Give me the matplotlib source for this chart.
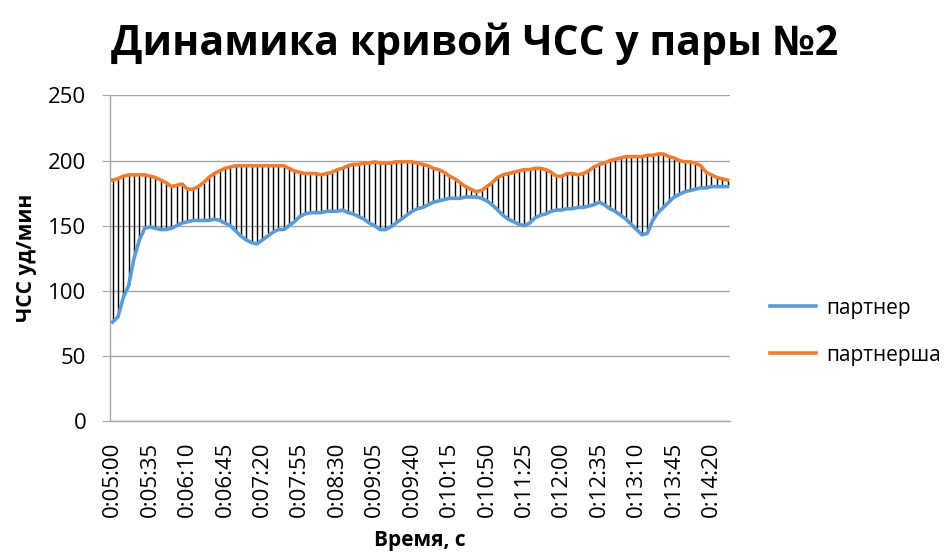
import matplotlib.pyplot as plt

# time axis: every 5 s from 0:05:00
start_sec = 300
step_sec = 5

partner = [76, 80, 95, 104, 125, 139, 148, 149, 148, 147, 147, 148, 150, 152, 153, 154, 154, 154, 154, 155,
           154, 152, 150, 146, 142, 139, 137, 136, 139, 142, 145, 147, 147, 150, 153, 157, 159, 160, 160, 160,
           161, 161, 161, 162, 160, 159, 157, 155, 152, 150, 147, 147, 149, 152, 155, 158, 161, 163, 164, 166,
           168, 169, 170, 171, 171, 171, 172, 172, 172, 171, 169, 166, 162, 158, 155, 153, 151, 150, 152, 156,
           158, 159, 161, 162, 162, 163, 163, 164, 164, 165, 166, 168, 166, 163, 161, 158, 155, 151, 147, 143,
           144, 154, 160, 164, 168, 172, 174, 176, 177, 178, 179, 179, 180, 180, 180, 180]

partnersha = [185, 186, 188, 189, 189, 189, 189, 188, 187, 185, 183, 180, 181, 182, 178, 178, 180, 183, 187, 190,
              192, 194, 195, 196, 196, 196, 196, 196, 196, 196, 196, 196, 196, 194, 192, 191, 190, 190, 190, 189,
              190, 191, 193, 194, 196, 197, 197, 198, 198, 199, 198, 198, 198, 199, 199, 199, 199, 198, 197, 196,
              194, 193, 191, 188, 186, 183, 180, 178, 176, 177, 180, 183, 187, 189, 190, 191, 192, 193, 193, 194,
              194, 193, 191, 188, 188, 190, 190, 189, 190, 192, 195, 197, 198, 200, 201, 202, 203, 203, 203, 203,
              204, 204, 205, 205, 203, 202, 200, 199, 199, 198, 196, 191, 189, 187, 186, 185]

n = len(partner)
x = list(range(n))


def fmt_time(sec):
    return f"{sec // 3600}:{(sec % 3600) // 60:02d}:{sec % 60:02d}"


tick_idx = list(range(0, n, 7))
tick_labels = [fmt_time(start_sec + i * step_sec) for i in tick_idx]

plt.rcParams['font.family'] = ['Open Sans', 'DejaVu Sans']

fig = plt.figure(figsize=(9.52, 5.58), dpi=100)
ax = fig.add_axes([0.1155, 0.2455, 0.6515, 0.5835])

ax.vlines(x, partner, partnersha, color='black', lw=1.0, zorder=2)
ax.plot(x, partner, color='#5B9BD5', lw=2.6, label='партнер', zorder=3)
ax.plot(x, partnersha, color='#ED7D31', lw=2.6, label='партнерша', zorder=3)

ax.set_xlim(-0.5, n - 0.5)
ax.set_ylim(0, 250)
ax.set_yticks(range(0, 251, 50))
ax.set_xticks(tick_idx)
ax.set_xticklabels(tick_labels, rotation=90, fontsize=16)
ax.tick_params(axis='y', labelsize=16, length=6, color='#a6a6a6', pad=11)
ax.tick_params(axis='x', length=0, pad=15)

ax.grid(axis='y', color='#a6a6a6', lw=1)
ax.set_axisbelow(True)
for s in ['top', 'right']:
    ax.spines[s].set_visible(False)
for s in ['left', 'bottom']:
    ax.spines[s].set_color('#a6a6a6')
    ax.spines[s].set_linewidth(1)

ax.set_ylabel('ЧСС уд/мин', fontsize=15, fontweight='bold', labelpad=8)
ax.set_xlabel('Время, с', fontsize=15, fontweight='bold', labelpad=9)

fig.text(0.499, 0.922, 'Динамика кривой ЧСС у пары №2', ha='center', va='center',
         fontsize=29.5, fontweight='bold')

fig.legend(loc='upper left', bbox_to_anchor=(0.789, 0.5), frameon=False,
           fontsize=15, handlelength=2.2, labelspacing=1.25, handletextpad=0.5)

fig.savefig('out.png', dpi=100)
